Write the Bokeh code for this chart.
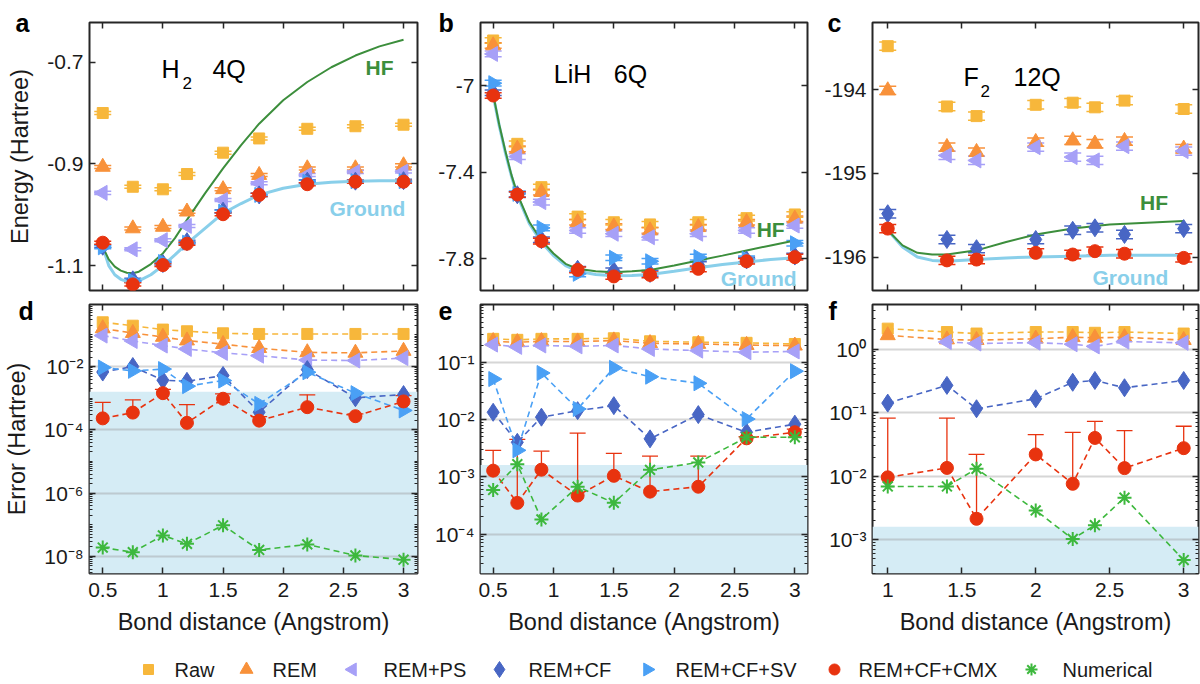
import numpy as np
from bokeh.plotting import figure
from bokeh.layouts import row, column
from bokeh.models import (Range1d, LinearAxis, LogAxis, FixedTicker, Label, BoxAnnotation,
                          Whisker, TeeHead, ColumnDataSource, CustomJSTickFormatter, GridBox)
from bokeh.core.properties import value
from bokeh.embed import file_html
from bokeh.resources import INLINE

nan = float("nan")
FONT = "Liberation Sans"

# ---------------- data ----------------
SERIES = ["Raw", "REM", "REM+PS", "REM+CF", "REM+CF+SV", "REM+CF+CMX", "Numerical"]
COLORS = ["#F7B73B", "#F8913A", "#A7A0F7", "#4866C4", "#4AA0F5", "#E8330F", "#3DB83D"]
HF_COLOR = "#3C8E3C"
GROUND_COLOR = "#89CFEA"
SHADE_COLOR = "#D5ECF5"
CHEM_ACC = 1.6e-3

# H2 (4 qubits)
H2_R = [0.5, 0.75, 1.0, 1.2, 1.5, 1.8, 2.2, 2.6, 3.0]
H2_RAW = [-0.800, -0.945, -0.950, -0.920, -0.878, -0.850, -0.831, -0.826, -0.823]
H2_REM = [-0.906, -1.027, -1.024, -0.994, -0.950, -0.922, -0.909, -0.909, -0.903]
H2_PS = [-0.957, -1.068, -1.050, -1.022, -0.971, -0.938, -0.922, -0.916, -0.915]
H2_CF = [-1.062, -1.128, -1.096, -1.053, -0.993, -0.961, -0.934, -0.934, -0.933]
H2_SV = [-1.064, -1.130, -1.093, -1.055, -0.994, -0.961, -0.935, -0.934, -0.934]
H2_CMX = [-1.055, -1.137, -1.099, -1.057, -0.999, -0.961, -0.940, -0.935, -0.935]
H2_STD = 0.003
H2_CURVE_R = [0.5, 0.55, 0.6, 0.65, 0.7, 0.75, 0.8, 0.9, 1.0, 1.1, 1.2, 1.35, 1.5, 1.65,
              1.8, 2.0, 2.2, 2.4, 2.6, 2.8, 3.0]
H2_HF = [-1.063, -1.088, -1.102, -1.110, -1.114, -1.115, -1.112, -1.097, -1.076, -1.046,
         -1.010, -0.958, -0.909, -0.863, -0.821, -0.775, -0.739, -0.710, -0.687, -0.669, -0.656]
H2_GROUND = [-1.063, -1.100, -1.118, -1.127, -1.131, -1.132, -1.130, -1.118, -1.100, -1.079,
             -1.057, -1.027, -0.997, -0.978, -0.961, -0.948, -0.940, -0.936, -0.934, -0.933, -0.933]
H2_ERR_RAW = [0.250, 0.195, 0.147, 0.130, 0.112, 0.107, 0.107, 0.107, 0.107]
H2_ERR_REM = [0.160, 0.114, 0.086, 0.066, 0.051, 0.038, 0.028, 0.027, 0.031]
H2_ERR_PS = [0.095, 0.064, 0.046, 0.036, 0.027, 0.022, 0.0160, 0.0155, 0.0185]
H2_ERR_CF = [0.0067, 0.0100, 0.0037, 0.0034, 0.0052, 0.00036, 0.0080, 0.00103, 0.0013]
H2_ERR_SV = [0.0093, 0.0073, 0.0083, 0.0024, 0.0036, 0.00066, 0.0066, 0.00144, 0.00041]
H2_ERR_CMX = [2.3e-4, 3.5e-4, 1.44e-3, 1.66e-4, 9.6e-4, 1.95e-4, 5.2e-4, 2.7e-4, 7.9e-4]
H2_ERR_CMX_UP = [7.4e-4, 8.9e-4, 1.9e-3, 6.3e-4, 1.37e-3, 2.6e-4, 1.28e-3, 3.2e-4, 1.2e-3]
H2_ERR_NUM = [1.9e-8, 1.36e-8, 4.6e-8, 2.5e-8, 9.6e-8, 1.6e-8, 2.4e-8, 1.07e-8, 7.9e-9]

# LiH (6 qubits)
LIH_R = [0.5, 0.7, 0.9, 1.2, 1.5, 1.8, 2.2, 2.6, 3.0]
LIH_RAW = [-6.792, -7.269, -7.469, -7.605, -7.631, -7.641, -7.631, -7.612, -7.595]
LIH_REM = [-6.815, -7.292, -7.492, -7.631, -7.651, -7.669, -7.654, -7.631, -7.615]
LIH_PS = [-6.854, -7.328, -7.538, -7.669, -7.684, -7.700, -7.684, -7.669, -7.646]
LIH_CF = [-7.033, -7.504, -7.712, -7.848, -7.855, -7.867, -7.826, -7.805, -7.787]
LIH_SV = [-6.989, -7.500, -7.657, -7.869, -7.795, -7.811, -7.792, -7.800, -7.728]
LIH_CMX = [-7.046, -7.503, -7.718, -7.851, -7.881, -7.874, -7.846, -7.811, -7.792]
LIH_STD = 0.013
LIH_CURVE_R = [0.5, 0.55, 0.6, 0.65, 0.7, 0.8, 0.9, 1.0, 1.1, 1.2, 1.35, 1.5, 1.65, 1.8,
               2.0, 2.2, 2.4, 2.6, 2.8, 3.0]
LIH_HF = [-7.040, -7.180, -7.300, -7.410, -7.500, -7.630, -7.715, -7.775, -7.823, -7.846,
          -7.857, -7.862, -7.857, -7.851, -7.831, -7.808, -7.785, -7.761, -7.738, -7.715]
LIH_GROUND = [-7.046, -7.185, -7.308, -7.415, -7.508, -7.638, -7.723, -7.785, -7.831, -7.857,
              -7.872, -7.878, -7.877, -7.872, -7.857, -7.841, -7.826, -7.814, -7.803, -7.795]
LIH_ERR_RAW = [0.257, 0.247, 0.257, 0.257, 0.263, 0.233, 0.224, 0.219, 0.209]
LIH_ERR_REM = [0.233, 0.224, 0.233, 0.230, 0.240, 0.215, 0.209, 0.200, 0.195]
LIH_ERR_PS = [0.204, 0.186, 0.197, 0.190, 0.197, 0.171, 0.160, 0.150, 0.155]
LIH_ERR_CF = [0.0134, 0.0040, 0.0110, 0.0143, 0.0175, 0.0046, 0.0122, 0.0060, 0.0083]
LIH_ERR_SV = [0.051, 0.0029, 0.065, 0.0153, 0.080, 0.056, 0.043, 0.0102, 0.070]
LIH_ERR_CMX = [0.00128, 0.00035, 0.00133, 0.00047, 0.00104, 0.00055, 0.00067, 0.0047, 0.0060]
LIH_ERR_CMX_UP = [0.0029, 0.0045, 0.0028, 0.0058, 0.00257, 0.0023, 0.0023, 0.0050, 0.0068]
LIH_ERR_NUM = [0.00059, 0.00166, 0.00018, 0.00067, 0.00035, 0.00132, 0.00178, 0.0049, 0.0049]

# F2 (12 qubits)
F2_R = [1.0, 1.4, 1.6, 2.0, 2.25, 2.4, 2.6, 3.0]
F2_RAW = [-193.479, -194.200, -194.315, -194.180, -194.155, -194.210, -194.130, -194.230]
F2_REM = [-194.008, -194.686, -194.745, -194.626, -194.606, -194.645, -194.614, -194.705]
F2_PS = [nan, -194.785, -194.845, -194.686, -194.805, -194.845, -194.674, -194.733]
F2_CF = [-195.482, -195.790, -195.900, -195.790, -195.680, -195.650, -195.730, -195.660]
F2_CMX = [-195.660, -196.040, -196.030, -195.950, -195.970, -195.930, -195.960, -196.010]
F2_STD = 0.05
F2_CURVE_R = [1.0, 1.1, 1.2, 1.3, 1.4, 1.6, 1.8, 2.0, 2.25, 2.5, 2.75, 3.0]
F2_HF = [-195.68, -195.86, -195.95, -195.97, -195.97, -195.92, -195.82, -195.73, -195.66,
         -195.61, -195.59, -195.57]
F2_GROUND = [-195.68, -195.88, -196.00, -196.04, -196.05, -196.03, -196.01, -196.00, -195.99,
             -195.98, -195.98, -195.98]
F2_ERR_RAW = [2.09, 1.85, 1.75, 1.85, 1.85, 1.80, 1.85, 1.75]
F2_ERR_REM = [1.64, 1.41, 1.38, 1.45, 1.53, 1.50, 1.53, 1.38]
F2_ERR_PS = [nan, 1.29, 1.22, 1.26, 1.19, 1.10, 1.31, 1.25]
F2_ERR_CF = [0.141, 0.268, 0.115, 0.165, 0.300, 0.320, 0.246, 0.320]
F2_ERR_CMX = [0.0096, 0.0135, 0.00214, 0.022, 0.0076, 0.040, 0.0134, 0.0276]
F2_ERR_CMX_UP = [0.082, 0.082, 0.022, 0.045, 0.049, 0.073, 0.052, 0.061]
F2_ERR_NUM = [0.0069, 0.0069, 0.0131, 0.0029, 0.00103, 0.0017, 0.0046, 0.00048]

# ticks
X_TICKS_AB = [0.5, 1.0, 1.5, 2.0, 2.5, 3.0]
X_TICKS_C = [1.0, 1.5, 2.0, 2.5, 3.0]
Y_TICKS_A = [-1.1, -0.9, -0.7]
Y_TICKS_B = [-7.8, -7.4, -7.0]
Y_TICKS_C = [-196, -195, -194]
Y_TICKS_D = [1e-8, 1e-6, 1e-4, 1e-2]
Y_TICKS_E = [1e-4, 1e-3, 1e-2, 1e-1]
Y_TICKS_F = [1e-3, 1e-2, 1e-1, 1.0]
LOG_MINOR = [k * 10.0 ** e for e in range(-10, 2) for k in range(1, 10)]

MARKERS = [("square", 11, 0.0), ("triangle", 15, 0.0), ("triangle", 15, np.pi / 2),
           ("diamond", 18, 0.0), ("triangle", 15, -np.pi / 2), ("circle", 13, 0.0),
           ("asterisk", 14, 0.0)]
LEGEND_MARKERS = [("square", 10, 0.0), ("triangle", 13, 0.0), ("triangle", 13, np.pi / 2),
                  ("diamond", 16, 0.0), ("triangle", 13, -np.pi / 2), ("circle", 11, 0.0),
                  ("asterisk", 12, 0.0)]
LEGEND_MARKER_X = [148, 246, 352, 499, 647, 834, 1031]
LEGEND_LABEL_X = [174, 272, 383, 528, 675, 858, 1062]

# panel letters: page pixel positions (left, baseline)
PANEL_LETTERS = ["a", "b", "c", "d", "e", "f"]
PANEL_LETTER_X = [15, 438, 827, 18, 438, 828]
PANEL_LETTER_Y = [22, 22, 22, 310, 310, 310]

NUM_FMT = CustomJSTickFormatter(code="return String(Math.round(tick*10)/10);")
LOG_FMT = CustomJSTickFormatter(code="""
const e = Math.round(Math.log10(tick));
const sup = {'-':'\u207B','0':'\u2070','1':'\u00B9','2':'\u00B2','3':'\u00B3','4':'\u2074',
             '5':'\u2075','6':'\u2076','7':'\u2077','8':'\u2078','9':'\u2079'};
return '10' + String(e).split('').map(c => sup[c]).join('');
""")


def style_axis(ax, ticker, log=False, hide=False):
    ax.ticker = ticker
    ax.axis_line_color = None
    ax.major_tick_in = 6
    ax.major_tick_out = 0
    ax.major_tick_line_color = "#262626"
    ax.major_tick_line_width = 1.5
    ax.minor_tick_out = 0
    if log:
        ax.minor_tick_in = 3
        ax.minor_tick_line_color = "#262626"
    else:
        ax.minor_tick_line_color = None
    ax.major_label_text_font = FONT
    ax.major_label_text_font_size = "21px"
    ax.major_label_text_color = "#1a1a1a"
    ax.major_label_standoff = 6
    ax.axis_label_text_font = FONT
    ax.axis_label_text_font_size = "23.5px"
    ax.axis_label_text_font_style = "normal"
    ax.axis_label_text_color = "#1a1a1a"
    if hide:
        ax.formatter = CustomJSTickFormatter(code="return '';")
        ax.major_label_text_font_size = "1px"
        ax.major_label_standoff = 0
    else:
        ax.formatter = LOG_FMT if log else NUM_FMT


def make_panel(xr, yr, xticks, yticks, log, fw, left, right, top, bottom, fh,
               xlabels, ylabel):
    p = figure(frame_width=fw, frame_height=fh, x_range=Range1d(*xr), y_range=Range1d(*yr),
               y_axis_type="log" if log else "linear", output_backend="svg",
               toolbar_location=None, min_border_left=left, min_border_right=right,
               min_border_top=top, min_border_bottom=bottom)
    p.outline_line_color = "#262626"
    p.outline_line_width = 2
    p.background_fill_color = "white"
    p.border_fill_color = "white"
    xt = FixedTicker(ticks=xticks, minor_ticks=[])
    yt = FixedTicker(ticks=yticks, minor_ticks=LOG_MINOR if log else [])
    bottom_ax = p.below[0]
    left_ax = p.left[0]
    style_axis(bottom_ax, xt, hide=not xlabels)
    style_axis(left_ax, yt, log=log)
    if xlabels:
        bottom_ax.axis_label = "Bond distance (Angstrom)"
        bottom_ax.major_label_standoff = 9
        bottom_ax.axis_label_standoff = 9
    if ylabel:
        left_ax.axis_label = ylabel
        left_ax.axis_label_standoff = 11
    top_ax = LinearAxis()
    p.add_layout(top_ax, "above")
    style_axis(top_ax, xt, hide=True)
    right_ax = LogAxis() if log else LinearAxis()
    p.add_layout(right_ax, "right")
    style_axis(right_ax, yt, log=log, hide=True)
    p.xgrid.visible = False
    if log:
        p.ygrid.ticker = FixedTicker(ticks=yticks, minor_ticks=[])
        p.ygrid.grid_line_color = "#999999"
        p.ygrid.grid_line_alpha = 0.4
        p.ygrid.grid_line_width = 2
    else:
        p.ygrid.visible = False
    return p


def add_text(p, x, y, text, size, color="black", bold=False, align="left",
             baseline="alphabetic"):
    p.add_layout(Label(x=x, y=y, text=text, text_font=FONT,
                       text_font_size=size, text_color=color,
                       text_font_style="bold" if bold else "normal",
                       text_align=align, text_baseline=baseline))


def energy_panel(p, R, series, curve_r, hf, ground, std):
    p.line(curve_r, ground, line_color=GROUND_COLOR, line_width=3)
    p.line(curve_r, hf, line_color=HF_COLOR, line_width=2)
    for vals, color, (mk, sz, ang) in zip(series, COLORS, MARKERS):
        if vals is None:
            continue
        v = np.array(vals, dtype=float)
        src = ColumnDataSource(dict(base=R, lower=v - std, upper=v + std))
        p.add_layout(Whisker(source=src, base="base", lower="lower", upper="upper",
                             dimension="height", line_color=color, line_width=1.5,
                             lower_head=TeeHead(size=17, line_color=color, line_width=1.5),
                             upper_head=TeeHead(size=17, line_color=color, line_width=1.5)))
        p.scatter(R, vals, marker=mk, size=sz, angle=ang, fill_color=color, line_color=color)


def error_panel(p, R, series, cmx_up):
    p.add_layout(BoxAnnotation(top=CHEM_ACC, fill_color=SHADE_COLOR, fill_alpha=1.0,
                               line_color=None, level="image"))
    src = ColumnDataSource(dict(base=R, lower=series[5], upper=cmx_up))
    p.add_layout(Whisker(source=src, base="base", lower="lower", upper="upper",
                         dimension="height", line_color=COLORS[5], line_width=1.3,
                         lower_head=None,
                         upper_head=TeeHead(size=16, line_color=COLORS[5], line_width=1.3)))
    for vals, color, (mk, sz, ang) in zip(series, COLORS, MARKERS):
        if vals is None:
            continue
        p.line(R, vals, line_color=color, line_width=1.6, line_dash="6 4")
        p.scatter(R, vals, marker=mk, size=sz, angle=ang, fill_color=color, line_color=color,
                  line_width=2 if mk == "asterisk" else 1)


# ---------------- top row ----------------
fa = make_panel((0.39, 3.116), (-1.149, -0.622), X_TICKS_AB, Y_TICKS_A, False,
                328, 89, 2, 22, 2, 268, False, "Energy (Hartree)")
fb = make_panel((0.395, 3.105), (-7.946, -6.709), X_TICKS_AB, Y_TICKS_B, False,
                327, 61, 2, 22, 2, 268, False, None)
fc = make_panel((0.897, 3.1), (-196.40, -193.196), X_TICKS_C, Y_TICKS_C, False,
                326, 63, 2, 22, 2, 268, False, None)

energy_panel(fa, H2_R, [H2_RAW, H2_REM, H2_PS, H2_CF, H2_SV, H2_CMX, None],
             H2_CURVE_R, H2_HF, H2_GROUND, H2_STD)
energy_panel(fb, LIH_R, [LIH_RAW, LIH_REM, LIH_PS, LIH_CF, LIH_SV, LIH_CMX, None],
             LIH_CURVE_R, LIH_HF, LIH_GROUND, LIH_STD)
energy_panel(fc, F2_R, [F2_RAW, F2_REM, F2_PS, F2_CF, None, F2_CMX, None],
             F2_CURVE_R, F2_HF, F2_GROUND, F2_STD)

# panel titles
add_text(fa, 0.989, -0.7125, "H", "25px")
add_text(fa, 1.163, -0.740, "2", "17px")
add_text(fa, 1.412, -0.7125, "4Q", "25px")
add_text(fb, 1.003, -6.949, "LiH", "25px")
add_text(fb, 1.50, -6.949, "6Q", "25px")
add_text(fc, 1.512, -193.853, "F", "25px")
add_text(fc, 1.627, -194.009, "2", "17px")
add_text(fc, 1.850, -193.853, "12Q", "25px")

add_text(fa, 2.80, -0.7105, "HF", "21px", HF_COLOR, True, "center", "middle")
add_text(fa, 2.70, -0.988, "Ground", "21px", GROUND_COLOR, True, "center", "middle")
add_text(fb, 2.80, -7.664, "HF", "21px", HF_COLOR, True, "center", "middle")
add_text(fb, 2.70, -7.890, "Ground", "21px", GROUND_COLOR, True, "center", "middle")
add_text(fc, 2.80, -195.348, "HF", "21px", HF_COLOR, True, "center", "middle")
add_text(fc, 2.64, -196.244, "Ground", "21px", GROUND_COLOR, True, "center", "middle")

# ---------------- bottom row ----------------
fd = make_panel((0.39, 3.116), (10 ** -8.54, 10 ** -0.04), X_TICKS_AB, Y_TICKS_D, True,
                328, 89, 2, 12, 72, 269, True, "Error (Hartree)")
fe = make_panel((0.395, 3.105), (10 ** -4.69, 10 ** 0.01), X_TICKS_AB, Y_TICKS_E, True,
                327, 61, 2, 12, 72, 269, True, None)
ff = make_panel((0.897, 3.1), (10 ** -3.53, 10 ** 0.70), X_TICKS_C, Y_TICKS_F, True,
                326, 63, 2, 12, 72, 269, True, None)

error_panel(fd, H2_R, [H2_ERR_RAW, H2_ERR_REM, H2_ERR_PS, H2_ERR_CF, H2_ERR_SV, H2_ERR_CMX,
                       H2_ERR_NUM], H2_ERR_CMX_UP)
error_panel(fe, LIH_R, [LIH_ERR_RAW, LIH_ERR_REM, LIH_ERR_PS, LIH_ERR_CF, LIH_ERR_SV,
                        LIH_ERR_CMX, LIH_ERR_NUM], LIH_ERR_CMX_UP)
error_panel(ff, F2_R, [F2_ERR_RAW, F2_ERR_REM, F2_ERR_PS, F2_ERR_CF, None, F2_ERR_CMX,
                       F2_ERR_NUM], F2_ERR_CMX_UP)

# ---------------- legend ----------------
fl = figure(frame_width=1200, frame_height=38, min_border_left=0, min_border_right=0,
            min_border_top=0, min_border_bottom=0, x_range=Range1d(0, 1200),
            y_range=Range1d(0, 38), x_axis_location=None, y_axis_location=None,
            output_backend="svg", toolbar_location=None)
fl.outline_line_color = None
fl.grid.visible = False
LEG_Y = 14
for name, color, (mk, sz, ang), mx, lx in zip(SERIES, COLORS, LEGEND_MARKERS,
                                             LEGEND_MARKER_X, LEGEND_LABEL_X):
    fl.scatter([mx], [LEG_Y], marker=mk, size=sz, angle=ang, fill_color=color,
               line_color=color, line_width=2 if mk == "asterisk" else 1)
    fl.text([lx], [LEG_Y], text=[name], text_font=value(FONT), text_font_size="20px",
            text_color="#1a1a1a", text_baseline="middle", text_align="left")

main = column(row(fa, fb, fc), row(fd, fe, ff), fl)

# ---------------- transparent overlay for the panel letters ----------------
ov = figure(frame_width=1200, frame_height=683, min_border_left=0, min_border_right=0,
            min_border_top=0, min_border_bottom=0, x_range=Range1d(0, 1200),
            y_range=Range1d(683, 0), x_axis_location=None, y_axis_location=None,
            output_backend="svg", toolbar_location=None)
ov.outline_line_color = None
ov.grid.visible = False
ov.background_fill_alpha = 0
ov.border_fill_alpha = 0
ov.text(PANEL_LETTER_X, PANEL_LETTER_Y, text=PANEL_LETTERS, text_font=value(FONT),
        text_font_size="25px", text_font_style="bold", text_color="black",
        text_baseline="alphabetic", text_align="left")

layout = GridBox(children=[(main, 0, 0), (ov, 0, 0)])
open("out.html", "w").write(file_html(layout, INLINE))
